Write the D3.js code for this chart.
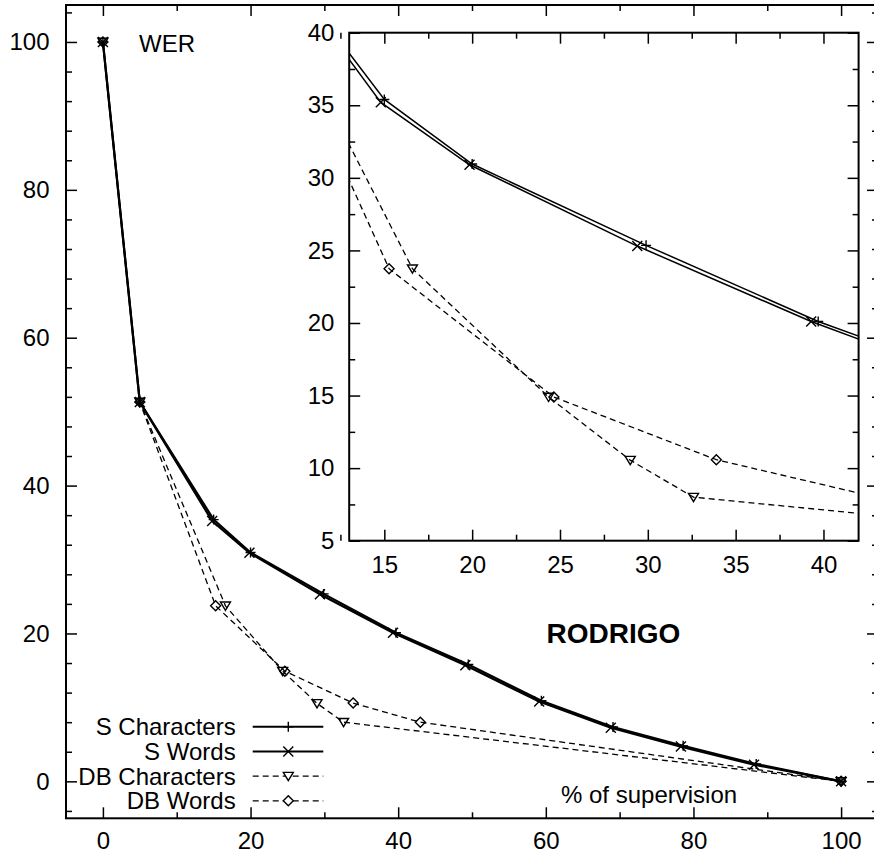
<!DOCTYPE html>
<html>
<head>
<meta charset="utf-8">
<script src="https://cdn.jsdelivr.net/npm/d3@7"></script>
<style>
  html, body { margin: 0; padding: 0; background: #fff; }
  svg { display: block; }
  text { font-family: "Liberation Sans", Arial, Helvetica, sans-serif; fill: #000; }
</style>
</head>
<body>
<svg id="chart" width="874" height="856"></svg>
<script>
// ---------------- data ----------------
const seriesNames = ["S Characters", "S Words", "DB Characters", "DB Words"];

const sCharX = [0, 5, 15, 20, 29.9, 39.7, 49.5, 59.4, 69.1, 78.6, 88.5, 100];
const sCharY = [100, 51.3, 35.4, 30.95, 25.35, 20.1, 15.8, 10.9, 7.35, 4.8, 2.35, 0];

const sWordX = [0, 5, 14.8, 19.85, 29.4, 39.3, 49.1, 59.1, 68.8, 78.3, 88.2, 100];
const sWordY = [100, 51.3, 35.2, 30.9, 25.3, 20.1, 15.7, 10.8, 7.25, 4.7, 2.25, 0];

const dbCharX = [0, 5, 16.6, 24.35, 29.0, 32.6, 100];
const dbCharY = [100, 51.3, 23.74, 14.9, 10.55, 8.0, 0];

const dbWordX = [0, 5, 15.27, 24.65, 33.9, 43.0, 100];
const dbWordY = [100, 51.3, 23.74, 14.9, 10.58, 8.0, 0];

const mainXTicks = [0, 20, 40, 60, 80, 100];
const mainYTicks = [0, 20, 40, 60, 80, 100];
const insetXTicks = [15, 20, 25, 30, 35, 40];
const insetYTicks = [5, 10, 15, 20, 25, 30, 35, 40];

const mainXDomain = [-5, 105];
const mainYDomain = [-5, 105];
const insetXDomain = [13, 42];
const insetYDomain = [5, 40];

// ---------------- setup ----------------
const svg = d3.select("#chart");
const FONT = 24;

const series = [
  { name: seriesNames[0], x: sCharX, y: sCharY, dash: null, marker: "plus" },
  { name: seriesNames[1], x: sWordX, y: sWordY, dash: null, marker: "cross" },
  { name: seriesNames[2], x: dbCharX, y: dbCharY, dash: "6,4", marker: "tri" },
  { name: seriesNames[3], x: dbWordX, y: dbWordY, dash: "6,4", marker: "diamond" }
];

function markerPath(type, s) {
  switch (type) {
    case "plus": return `M${-s},0H${s}M0,${-s}V${s}`;
    case "cross": return `M${-s},${-s}L${s},${s}M${-s},${s}L${s},${-s}`;
    case "tri": return `M${-s},${-s * 0.75}L${s},${-s * 0.75}L0,${s * 0.9}Z`;
    case "diamond": return `M0,${-s}L${s},0L0,${s}L${-s},0Z`;
  }
}

function drawPanel(g, x, y, opts) {
  const [x0, x1] = x.range();
  const [y0, y1] = y.range(); // y0 bottom, y1 top
  const clipId = opts.clipId;
  svg.append("defs").append("clipPath").attr("id", clipId)
    .append("rect").attr("x", x0).attr("y", y1).attr("width", x1 - x0).attr("height", y0 - y1);

  g.append("rect").attr("x", x0).attr("y", y1).attr("width", x1 - x0).attr("height", y0 - y1)
    .attr("fill", "#fff");

  const data = g.append("g").attr("clip-path", `url(#${clipId})`);
  series.forEach(s => {
    const pts = s.x.map((v, i) => [v, s.y[i]]);
    const line = d3.line().x(d => x(d[0])).y(d => y(d[1]));
    data.append("path").attr("d", line(pts))
      .attr("fill", "none").attr("stroke", "#000")
      .attr("stroke-width", s.dash ? 1.3 : opts.solidWidth)
      .attr("stroke-dasharray", s.dash);
    data.selectAll(null).data(pts).enter().append("path")
      .attr("transform", d => `translate(${x(d[0])},${y(d[1])})`)
      .attr("d", markerPath(s.marker, 5))
      .attr("fill", "none")
      .attr("stroke", "#000").attr("stroke-width", 1.4);
  });

  // axes
  const tickStyle = sel => {
    sel.select(".domain").remove();
    sel.selectAll(".tick line").attr("stroke", "#000").attr("stroke-width", 1.5);
    sel.selectAll("text").attr("font-size", FONT).attr("font-family", null);
  };
  g.append("g").attr("transform", `translate(0,${y0})`)
    .call(d3.axisBottom(x).tickValues(opts.xTicks).tickSize(-11).tickPadding(opts.xPad).tickFormat(d3.format("d")))
    .call(tickStyle);
  g.append("g").attr("transform", `translate(0,${y0})`)
    .call(d3.axisBottom(x).tickValues(opts.xMinor).tickSize(-6).tickFormat(""))
    .call(tickStyle);
  g.append("g").attr("transform", `translate(0,${y1})`)
    .call(d3.axisTop(x).tickValues(opts.xTicks).tickSize(-11).tickFormat(""))
    .call(tickStyle);
  g.append("g").attr("transform", `translate(0,${y1})`)
    .call(d3.axisTop(x).tickValues(opts.xMinor).tickSize(-6).tickFormat(""))
    .call(tickStyle);
  g.append("g").attr("transform", `translate(${x0},0)`)
    .call(d3.axisLeft(y).tickValues(opts.yTicks).tickSize(-11).tickPadding(opts.yPad).tickFormat(d3.format("d")))
    .call(tickStyle);
  g.append("g").attr("transform", `translate(${x0},0)`)
    .call(d3.axisLeft(y).tickValues(opts.yMinor).tickSize(-6).tickFormat(""))
    .call(tickStyle);
  g.append("g").attr("transform", `translate(${x1},0)`)
    .call(d3.axisRight(y).tickValues(opts.yTicks).tickSize(-11).tickFormat(""))
    .call(tickStyle);
  g.append("g").attr("transform", `translate(${x1},0)`)
    .call(d3.axisRight(y).tickValues(opts.yMinor).tickSize(-6).tickFormat(""))
    .call(tickStyle);

  g.append("rect").attr("x", x0).attr("y", y1).attr("width", x1 - x0).attr("height", y0 - y1)
    .attr("fill", "none").attr("stroke", "#000").attr("stroke-width", 2);
}

// ---------------- main panel ----------------
const mx = d3.scaleLinear().domain(mainXDomain).range([66, 878]);
const my = d3.scaleLinear().domain(mainYDomain).range([818.3, 5]);
const mainG = svg.append("g");
drawPanel(mainG, mx, my, {
  clipId: "clipMain", solidWidth: 2.2,
  xTicks: mainXTicks, xMinor: d3.range(10, 100, 20), xPad: 14,
  yTicks: mainYTicks, yMinor: d3.range(-4, 105, 4).filter(v => v % 20 !== 0), yPad: 16.5
});

// labels in main panel
mainG.append("text").attr("x", 139).attr("y", 51.5).attr("font-size", FONT).text("WER");
mainG.append("text").attr("x", 546.5).attr("y", 643.3).attr("font-size", 28)
  .attr("font-weight", "bold").text("RODRIGO");
mainG.append("text").attr("x", 561).attr("y", 803.3).attr("font-size", FONT).text("% of supervision");

// legend
const legend = mainG.append("g");
const legY0 = 726.7, legDY = 24.7;
series.forEach((s, i) => {
  const yy = legY0 + i * legDY;
  legend.append("text").attr("x", 235.7).attr("y", yy).attr("dy", "0.35em")
    .attr("text-anchor", "end").attr("font-size", FONT).text(s.name);
  legend.append("line").attr("x1", 252.7).attr("x2", 323.3).attr("y1", yy).attr("y2", yy)
    .attr("stroke", "#000").attr("stroke-width", s.dash ? 1.3 : 2)
    .attr("stroke-dasharray", s.dash);
  legend.append("path").attr("transform", `translate(288.3,${yy})`)
    .attr("d", markerPath(s.marker, 5))
    .attr("fill", s.dash ? "#fff" : "none").attr("stroke", "#000").attr("stroke-width", 1.4);
});

// ---------------- inset panel ----------------
const ix = d3.scaleLinear().domain(insetXDomain).range([349.2, 858.6]);
const iy = d3.scaleLinear().domain(insetYDomain).range([540.7, 32.7]);
const insetG = svg.append("g");
drawPanel(insetG, ix, iy, {
  clipId: "clipInset", solidWidth: 1.5,
  xTicks: insetXTicks, xMinor: d3.range(12.5, 42, 5), xPad: 15,
  yTicks: insetYTicks, yMinor: d3.range(7.5, 40, 5), yPad: 14.8
});
</script>
</body>
</html>
